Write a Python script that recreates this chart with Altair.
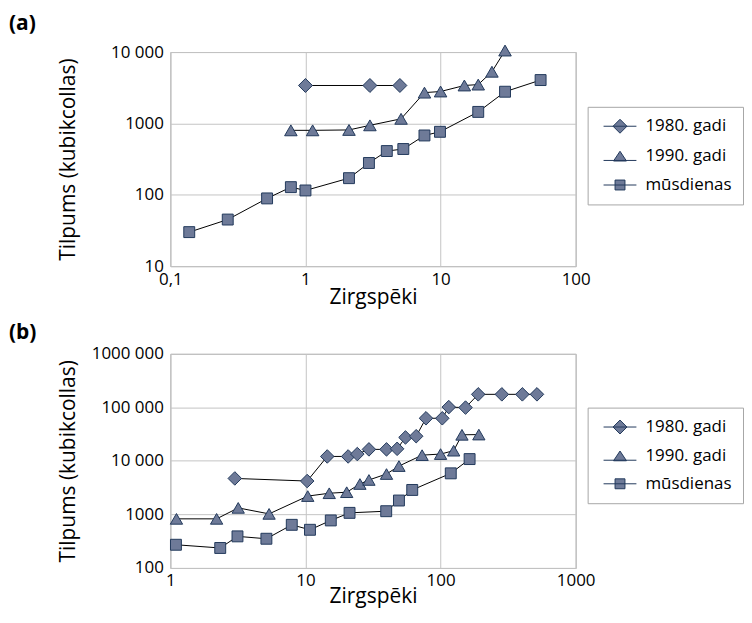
import altair as alt
import pandas as pd

SERIES = ["1980. gadi", "1990. gadi", "mūsdienas"]

# Panel (a)
a_1980_hp = [1.0, 3.0, 5.0]
a_1980_vol = [3400, 3400, 3400]
a_1990_hp = [0.78, 1.13, 2.1, 3.0, 5.1, 7.6, 10, 15, 19, 24, 30]
a_1990_vol = [800, 800, 810, 940, 1160, 2700, 2800, 3400, 3500, 5300, 10500]
a_mus_hp = [0.138, 0.266, 0.52, 0.78, 1.0, 2.1, 2.95, 4.0, 5.3, 7.6, 9.9, 19, 30, 55]
a_mus_vol = [30, 45, 89, 128, 115, 171, 279, 410, 438, 678, 763, 1450, 2780, 4050]

# Panel (b)
b_1980_hp = [3.0, 10.3, 14.5, 20.7, 24.2, 29.5, 39.8, 47.7, 55, 66, 78, 103, 115, 153, 190, 284, 403, 517]
b_1980_vol = [4700, 4200, 12100, 12100, 13400, 16400, 16400, 16800, 27400, 28900, 62500, 62500,
              101000, 99000, 175000, 175000, 175000, 175000]
b_1990_hp = [1.11, 2.2, 3.18, 5.38, 10.4, 15, 20.2, 25.3, 29.5, 39.8, 49.2, 73, 100, 125, 144, 192]
b_1990_vol = [826, 826, 1324, 1023, 2200, 2485, 2600, 3700, 4400, 5680, 8000, 12800, 13400, 15500,
              30700, 31000]
b_mus_hp = [1.1, 2.34, 3.14, 5.14, 7.92, 10.8, 15.4, 21.2, 39.6, 49.2, 61.7, 119, 164]
b_mus_vol = [271, 236, 389, 351, 639, 516, 772, 1069, 1148, 1817, 2864, 5850, 10800]

X_TICKS_A = [0.1, 1, 10, 100]
Y_TICKS_A = [10, 100, 1000, 10000]
X_TICKS_B = [1, 10, 100, 1000]
Y_TICKS_B = [100, 1000, 10000, 100000, 1000000]

FILL = "#6e7a98"
STROKE = "#22395c"
FONT = "Open Sans"

# legend glyphs: a short line with the marker on it (unit = half symbol size)
LEGEND_PATHS = [
    "M-0.5,0H4.21M0.857,0L1.857,-1L2.857,0L1.857,1Z",
    "M-0.5,0.62H4.21M1.857,-0.7L2.787,0.7L0.927,0.7Z",
    "M-0.5,0H4.21M1.147,-0.71H2.567V0.71H1.147Z",
]


def frame(groups):
    rows = []
    for name, xs, ys in groups:
        for i, (xv, yv) in enumerate(zip(xs, ys)):
            rows.append({"series": name, "hp": xv, "vol": yv, "i": i})
    return pd.DataFrame(rows)


df_a = frame([(SERIES[0], a_1980_hp, a_1980_vol),
              (SERIES[1], a_1990_hp, a_1990_vol),
              (SERIES[2], a_mus_hp, a_mus_vol)])
df_b = frame([(SERIES[0], b_1980_hp, b_1980_vol),
              (SERIES[1], b_1990_hp, b_1990_vol),
              (SERIES[2], b_mus_hp, b_mus_vol)])

X_LABEL = "datum.value < 1 ? replace(toString(datum.value), '.', ',') : format(datum.value, 'd')"
Y_LABEL = "datum.value >= 10000 ? format(datum.value / 1000, 'd') + ' 000' : format(datum.value, 'd')"


def panel(df, xdom, ydom, xticks, yticks, label, lx, ly, dsize, toffset, xtpad, rowpad):
    x = alt.X("hp:Q", scale=alt.Scale(type="log", domain=xdom, nice=False),
              axis=alt.Axis(values=xticks, labelExpr=X_LABEL, title="Zirgspēki",
                            labelFlush=False, labelOverlap=False, ticks=False,
                            domain=False, labelPadding=5, titlePadding=xtpad))
    y = alt.Y("vol:Q", scale=alt.Scale(type="log", domain=ydom, nice=False),
              axis=alt.Axis(values=yticks, labelExpr=Y_LABEL, title="Tilpums (kubikcollas)",
                            labelOverlap=False, ticks=False, domain=False, labelPadding=7,
                            titleX=-92, titleBaseline="bottom", titleAngle=270))
    base = alt.Chart(df)
    lines = base.mark_line(color="black", strokeWidth=1).encode(
        x=x, y=y, detail="series:N", order="i:Q")
    pts = base.mark_point(filled=True, fill=FILL, stroke=STROKE, strokeWidth=1, opacity=1).encode(
        x=x, y=y,
        shape=alt.Shape("series:N", scale=alt.Scale(domain=SERIES, range=["diamond", "triangle-up", "square"]),
                        legend=None),
        size=alt.Size("series:N", scale=alt.Scale(domain=SERIES, range=[dsize, 120, 120]), legend=None),
    )
    leg = base.transform_filter("false").mark_point(
        filled=True, fill=FILL, stroke=STROKE, strokeWidth=1, opacity=1, size=196).encode(
        x=x, y=y,
        shape=alt.Shape("series:N", scale=alt.Scale(domain=SERIES, range=LEGEND_PATHS),
                        legend=alt.Legend(title=None, orient="none", legendX=lx, legendY=ly,
                                          symbolSize=196, symbolStrokeWidth=1,
                                          labelFont=FONT, labelFontSize=17, labelColor="black",
                                          labelOffset=30, rowPadding=rowpad, padding=11,
                                          strokeColor="#a6a6a6", fillColor="white")),
    )
    return alt.layer(lines, pts, leg).resolve_scale(shape="independent", size="independent").properties(
        width=407, height=215,
        title=alt.TitleParams(label, anchor="start", frame="group", dx=-162, offset=toffset,
                              font=FONT, fontSize=21, fontWeight="bold", color="black"),
    )


pa = panel(df_a, [0.1, 100], [10, 10000], X_TICKS_A, Y_TICKS_A, "(a)", 419, 55, 196, 9, -1, 11)
pb = panel(df_b, [1, 1000], [100, 1000000], X_TICKS_B, Y_TICKS_B, "(b)", 419, 54, 185, 2, -3, 10)

chart = alt.vconcat(pa, pb, spacing=13).properties(
    padding={"left": 0, "top": 3, "right": 0, "bottom": 0}
).configure_view(stroke="#a6a6a6", strokeWidth=1).configure_axis(
    grid=True, gridColor="#c4c4c4", gridWidth=1,
    labelFont=FONT, labelFontSize=17, labelColor="black",
    titleFont=FONT, titleFontSize=21, titleFontWeight="normal", titleColor="black",
)

chart.save("out.html", embed_options={"renderer": "svg", "actions": False})
